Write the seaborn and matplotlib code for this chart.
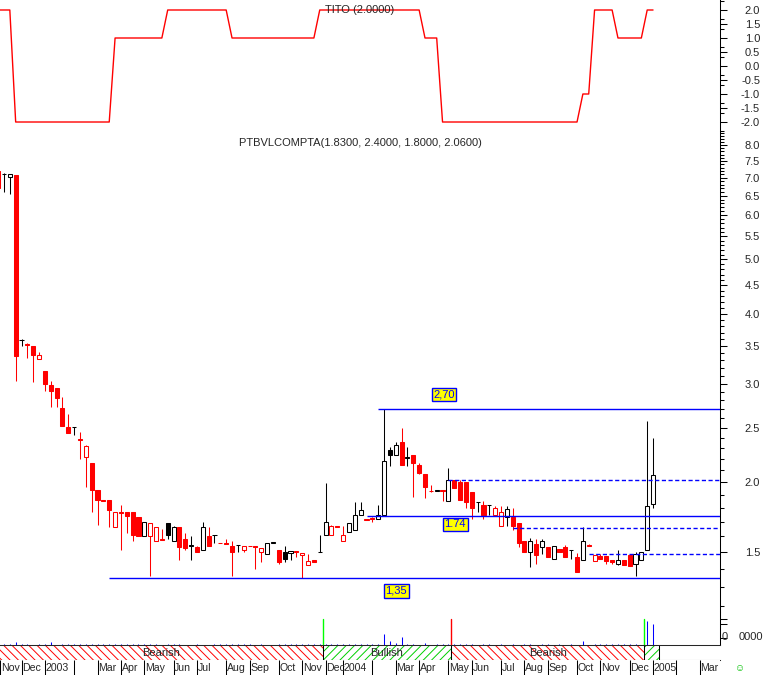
import numpy as np
import pandas as pd
import matplotlib
matplotlib.use("Agg")
import matplotlib.pyplot as plt
import seaborn as sns
from matplotlib.ticker import FixedLocator, NullFormatter, FormatStrFormatter

# weekly candles, week -1 is the one cut by the left edge
opens = [7.19, 7.10, 7.03, 7.08, 3.59, 3.53, 3.50, 3.32, 3.16, 2.98, 2.95, 2.71, 2.51, 2.51, 2.39, 2.22,
         2.16, 1.94, 1.86, 1.86, 1.66, 1.77, 1.77, 1.77, 1.73, 1.60, 1.60, 1.57, 1.58, 1.69, 1.57, 1.66,
         1.58, 1.54, 1.53, 1.51, 1.60, 1.61, 1.56, 1.56, 1.54, 1.545, 1.51, 1.54, 1.535, 1.50, 1.49, 1.56,
         1.51, 1.50, 1.495, 1.505, 1.48, 1.42, 1.45, 1.50, 1.61, 1.61, 1.67, 1.57, 1.63, 1.64, 1.75, 1.71,
         1.725, 1.72, 1.75, 2.28, 2.24, 2.36, 2.21, 2.24, 2.15, 2.07, 1.93, 1.93, 1.935, 1.85, 2.02, 2.00,
         2.00, 1.92, 1.84, 1.82, 1.82, 1.75, 1.67, 1.73, 1.73, 1.69, 1.57, 1.50, 1.55, 1.53, 1.53, 1.46,
         1.52, 1.53, 1.51, 1.47, 1.45, 1.545, 1.445, 1.475, 1.475, 1.45, 1.43, 1.45, 1.48, 1.43, 1.45, 1.51,
         1.83]
highs = [7.19, 7.14, 7.12, 7.08, 3.60, 3.55, 3.50, 3.42, 3.16, 3.03, 2.95, 2.84, 2.65, 2.51, 2.46, 2.33,
         2.16, 1.94, 1.86, 1.86, 1.77, 1.82, 1.77, 1.77, 1.73, 1.70, 1.69, 1.66, 1.65, 1.69, 1.67, 1.66,
         1.62, 1.60, 1.54, 1.70, 1.66, 1.61, 1.56, 1.58, 1.57, 1.545, 1.54, 1.54, 1.535, 1.525, 1.56, 1.565,
         1.51, 1.54, 1.505, 1.505, 1.495, 1.49, 1.45, 1.61, 1.99, 1.68, 1.67, 1.67, 1.69, 1.84, 1.84, 1.72,
         1.73, 1.82, 2.70, 2.31, 2.36, 2.50, 2.31, 2.24, 2.16, 2.07, 1.98, 1.94, 1.935, 2.12, 2.02, 2.02,
         2.00, 1.92, 1.845, 1.85, 1.82, 1.81, 1.81, 1.81, 1.80, 1.69, 1.57, 1.59, 1.58, 1.58, 1.53, 1.54,
         1.52, 1.545, 1.51, 1.495, 1.66, 1.55, 1.48, 1.49, 1.475, 1.45, 1.51, 1.45, 1.48, 1.50, 1.50, 2.57,
         2.40]
lows = [6.70, 6.60, 6.55, 3.03, 3.50, 3.34, 3.02, 3.32, 2.91, 2.72, 2.73, 2.52, 2.45, 2.43, 2.20, 1.96,
        1.77, 1.68, 1.85, 1.66, 1.66, 1.51, 1.62, 1.57, 1.60, 1.60, 1.36, 1.57, 1.575, 1.58, 1.57, 1.45,
        1.51, 1.45, 1.50, 1.51, 1.54, 1.56, 1.555, 1.55, 1.36, 1.50, 1.50, 1.535, 1.40, 1.44, 1.49, 1.56,
        1.43, 1.44, 1.45, 1.47, 1.35, 1.42, 1.44, 1.50, 1.61, 1.61, 1.665, 1.57, 1.63, 1.64, 1.75, 1.71,
        1.70, 1.72, 1.75, 2.14, 2.24, 2.15, 2.14, 1.88, 2.07, 1.87, 1.92, 1.93, 1.85, 1.85, 1.95, 1.86,
        1.80, 1.72, 1.77, 1.72, 1.75, 1.75, 1.67, 1.67, 1.64, 1.53, 1.50, 1.41, 1.43, 1.49, 1.47, 1.455,
        1.50, 1.47, 1.46, 1.38, 1.45, 1.54, 1.445, 1.455, 1.43, 1.43, 1.42, 1.42, 1.415, 1.36, 1.45, 1.51,
        1.80]
closes = [6.70, 7.11, 7.12, 3.36, 3.59, 3.51, 3.38, 3.37, 3.00, 2.91, 2.83, 2.52, 2.45, 2.51, 2.38, 2.32,
          1.94, 1.86, 1.85, 1.78, 1.77, 1.76, 1.74, 1.61, 1.60, 1.70, 1.69, 1.66, 1.575, 1.61, 1.66, 1.53,
          1.525, 1.545, 1.50, 1.66, 1.54, 1.61, 1.555, 1.55, 1.50, 1.545, 1.54, 1.535, 1.53, 1.525, 1.56, 1.565,
          1.44, 1.46, 1.505, 1.50, 1.495, 1.445, 1.44, 1.50, 1.70, 1.67, 1.665, 1.61, 1.69, 1.75, 1.78, 1.72,
          1.715, 1.75, 2.18, 2.24, 2.33, 2.15, 2.22, 2.16, 2.08, 1.96, 1.925, 1.94, 1.93, 2.02, 1.95, 1.86,
          1.84, 1.80, 1.845, 1.75, 1.82, 1.80, 1.77, 1.79, 1.67, 1.56, 1.50, 1.57, 1.48, 1.57, 1.47, 1.54,
          1.50, 1.47, 1.51, 1.38, 1.57, 1.54, 1.48, 1.455, 1.445, 1.44, 1.45, 1.42, 1.415, 1.49, 1.50, 1.81,
          2.06]
volume = [15000, 15000, 15000, 40000, 15000, 15000, 0, 15000, 15000, 40000, 0, 15000, 15000, 15000, 15000, 15000,
          15000, 15000, 15000, 15000, 15000, 15000, 15000, 15000, 15000, 15000, 15000, 15000, 0, 15000, 15000, 15000,
          0, 0, 15000, 0, 0, 15000, 15000, 15000, 15000, 15000, 15000, 15000, 0, 15000, 0, 0,
          15000, 15000, 15000, 15000, 15000, 15000, 15000, 15000, 15000, 15000, 15000, 15000, 15000, 15000, 15000, 15000,
          15000, 15000, 160000, 57000, 30000, 115000, 15000, 15000, 0, 30000, 0, 15000, 15000, 15000, 15000, 15000,
          15000, 15000, 0, 15000, 15000, 0, 15000, 0, 15000, 0, 15000, 15000, 0, 15000, 15000, 0,
          15000, 0, 15000, 0, 57000, 0, 15000, 15000, 15000, 15000, 15000, 15000, 15000, 15000, 0, 340000,
          300000]
tito = [2, 2, 2, -2, -2, -2, -2, -2, -2, -2, -2, -2, -2, -2, -2, -2,
        -2, -2, -2, -2, 1, 1, 1, 1, 1, 1, 1, 1, 1, 2, 2, 2,
        2, 2, 2, 2, 2, 2, 2, 2, 1, 1, 1, 1, 1, 1, 1, 1,
        1, 1, 1, 1, 1, 1, 1, 2, 2, 2, 2, 2, 2, 2, 2, 2,
        2, 2, 2, 2, 2, 2, 2, 2, 2, 1, 1, 1, -2, -2, -2, -2,
        -2, -2, -2, -2, -2, -2, -2, -2, -2, -2, -2, -2, -2, -2, -2, -2,
        -2, -2, -2, -2, -1, -1, 2, 2, 2, 2, 1, 1, 1, 1, 1, 2,
        2]

signal_weeks = [55, 77, 110]
signal_colors = ["#00FF00", "#FF0000", "#00FF00"]
trend_names = ["Bearish", "Bullish", "Bearish", ""]
trend_colors = ["red", "#00D000", "red", "#00D000"]

levels = [1.35, 2.70, 1.74]
level_start = [18, 64, 62]
dashed_levels = [2.02, 1.655, 1.49]
dashed_start = [76, 87, 100]

month_labels = ["Nov", "Dec", "2003", "", "Mar", "Apr", "May", "Jun", "Jul", "Aug", "Sep", "Oct", "Nov", "Dec",
                "2004", "", "Mar", "Apr", "May", "Jun", "Jul", "Aug", "Sep", "Oct", "Nov", "Dec", "2005", "", "Mar"]
month_weeks = [-0.65, 3, 7, 12, 16, 20, 24, 29, 33, 38, 42, 47, 51, 55, 58, 63, 67, 71, 76, 80, 85, 89, 93, 98,
               102, 107, 111, 115, 119]

df = pd.DataFrame({"week": np.arange(-1, len(opens) - 1), "open": opens, "high": highs,
                   "low": lows, "close": closes, "volume": volume, "tito": tito})
prev = np.r_[np.inf, df["close"].values[:-1]]
df["color"] = np.where(df["close"] < prev, "red", "black")
df["hollow"] = df["close"] >= df["open"]

sns.set_style("white")
plt.rcParams["font.family"] = ["Liberation Sans", "DejaVu Sans"]
plt.rcParams["font.size"] = 8
plt.rcParams["hatch.linewidth"] = 0.7
plt.rcParams["lines.scale_dashes"] = False

W, H = 767, 675
fig = plt.figure(figsize=(W / 100, H / 100), dpi=100)
def box(top, bottom):
    return [0, (H - bottom) / H, 720 / W, (bottom - top) / H]

ax_t = fig.add_axes(box(0, 132))
ax_p = fig.add_axes(box(132, 612))
ax_v = fig.add_axes(box(612, 645))
ax_s = fig.add_axes(box(645, 660))
ax_m = fig.add_axes(box(660, 675))
x0, x1 = -0.68, 122.45
lw = 0.75

for ax in [ax_t, ax_p, ax_v, ax_s, ax_m]:
    ax.set_xlim(x0, x1)
    ax.set_facecolor("white")
    for s in ["top", "left", "bottom"]:
        ax.spines[s].set_visible(False)
    ax.spines["right"].set_color("black")
    ax.spines["right"].set_linewidth(lw)
    ax.set_xticks([])
    ax.yaxis.tick_right()
    ax.tick_params(axis="y", which="major", length=4.8, width=lw, color="black", labelsize=8, pad=24)
    ax.tick_params(axis="y", which="minor", length=3.0, width=lw, color="black")
    ax.tick_params(axis="y", which="both", right=True, left=False)

# TITO panel
sns.lineplot(data=df, x="week", y="tito", ax=ax_t, color="red", linewidth=1.0)
ax_t.set_ylim(-2.357, 2.357)
ax_t.yaxis.set_major_locator(FixedLocator(np.arange(-2, 2.01, 0.5)))
ax_t.yaxis.set_minor_locator(FixedLocator([v for v in np.arange(-7, 8) / 3 if abs(v * 2 - round(v * 2)) > 1e-6]))
ax_t.yaxis.set_major_formatter(FormatStrFormatter("%.1f"))
ax_t.yaxis.set_minor_formatter(NullFormatter())
ax_t.set_xlabel("")
ax_t.set_ylabel("")
ax_t.text(0.5, 0.925, "TITO (2.0000)", transform=ax_t.transAxes, ha="center", va="center")

# price panel
ax_p.set_yscale("log")
ax_p.vlines(df["week"], df["low"], df["high"], colors=df["color"], linewidth=lw, zorder=2)
face = np.where(df["hollow"], "white", df["color"])
ax_p.bar(df["week"], df["close"] - df["open"], bottom=df["open"], width=0.7,
         color=face, edgecolor=df["color"], linewidth=lw, zorder=3)
for lev, st in zip(levels, level_start):
    ax_p.hlines(lev, st, x1, color="blue", linewidth=1.0, zorder=4)
for lev, st in zip(dashed_levels, dashed_start):
    ax_p.hlines(lev, st, x1, color="blue", linewidth=1.0, linestyles=(0, (3, 1.8)), zorder=4)
tag = dict(facecolor="#FFFF00", edgecolor="blue", linewidth=1.0, boxstyle="square,pad=0.15")
ax_p.text(75.26, 2.87, "2,70", color="blue", ha="center", va="center", bbox=tag, zorder=5)
ax_p.text(77.19, 1.681, "1.74", color="blue", ha="center", va="center", bbox=tag, zorder=5)
ax_p.text(67.05, 1.278, "1,35", color="blue", ha="center", va="center", bbox=tag, zorder=5)
ax_p.set_ylim(1.172, 8.45)
majors = np.arange(1.5, 8.01, 0.5)
minors = [v for v in np.arange(1.2, 8.45, 0.1) if np.min(np.abs(majors - v)) > 1e-6]
ax_p.yaxis.set_major_locator(FixedLocator(majors))
ax_p.yaxis.set_minor_locator(FixedLocator(minors))
ax_p.yaxis.set_major_formatter(FormatStrFormatter("%.1f"))
ax_p.yaxis.set_minor_formatter(NullFormatter())
ax_p.text(0.5, 0.977, "PTBVLCOMPTA(1.8300, 2.4000, 1.8000, 2.0600)", transform=ax_p.transAxes,
          ha="center", va="center")

# volume panel
ax_v.vlines(df["week"], 0, df["volume"], colors="blue", linewidth=lw)
for w, c in zip(signal_weeks, signal_colors):
    ax_v.axvline(w - 0.5, ymin=0, ymax=0.79, color=c, linewidth=1.0)
ax_v.set_ylim(0, 471000)
ax_v.set_yticks([100000, 300000, 371000])
ax_v.set_yticklabels([])
fig.text(722 / W, 1 - 637 / H, "0", ha="left", va="center")
fig.text(739 / W, 1 - 637 / H, "0000", ha="left", va="center")

# trend strip
bounds = [x0] + [w - 0.5 for w in signal_weeks] + [112.0]
for k, name in enumerate(trend_names):
    a, b = bounds[k], bounds[k + 1]
    hatch = "\\\\\\\\" if trend_colors[k] == "red" else "////"
    ax_s.axvspan(a, b, facecolor="white", edgecolor=trend_colors[k], hatch=hatch, linewidth=0)
    ax_s.axvline(b, color="black", linewidth=lw)
    if name:
        ax_s.text((a + b) / 2, 0.5, name, ha="center", va="center")
ax_s.set_ylim(0, 1)
ax_s.set_yticks([])
ax_s.spines["right"].set_visible(False)
ax_s.spines["top"].set_visible(True)
ax_s.spines["bottom"].set_visible(True)
ax_s.spines["top"].set_linewidth(lw)
ax_s.spines["bottom"].set_linewidth(lw)

# month axis
ax_m.set_ylim(0, 1)
ax_m.set_yticks([])
ax_m.spines["right"].set_visible(False)
ax_m.vlines(month_weeks, 0, 1, color="black", linewidth=lw)
for w, lab in zip(month_weeks, month_labels):
    ax_m.text(w + 0.12, 0.45, lab, ha="left", va="center", fontsize=7.6)
fig.text(740 / W, 1 - 668 / H, "\u263a", color="#00C000", ha="center", va="center", fontsize=7)

# right-aligned value labels like the terminal
for ax in [ax_t, ax_p]:
    for lbl in ax.get_yticklabels():
        lbl.set_horizontalalignment("right")

fig.savefig("out.png", dpi=100)
